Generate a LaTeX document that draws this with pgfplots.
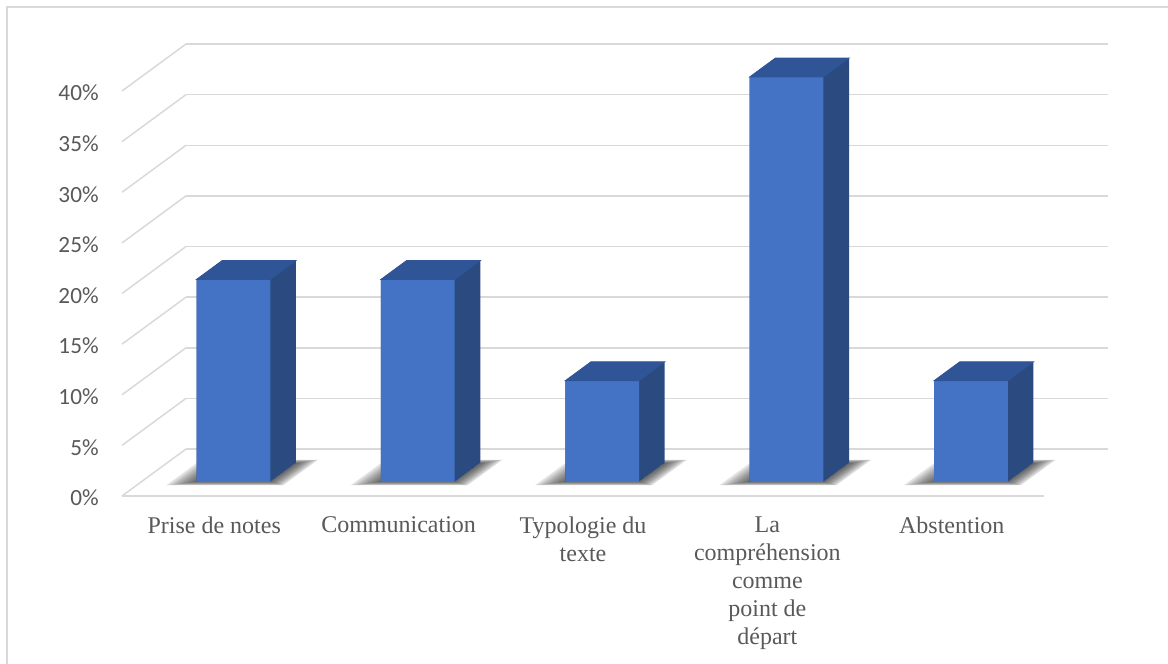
\documentclass[border=0pt]{standalone}
\usepackage{fontspec}
\setmainfont{Liberation Serif}
\newfontfamily\calibri{Carlito}
\usepackage{pgfplots}
\pgfplotsset{compat=1.18}
\usepackage{pgfplotstable}

\definecolor{frontc}{HTML}{4472C4}
\definecolor{topc}{HTML}{2F5597}
\definecolor{sidec}{HTML}{2A4A80}
\definecolor{gridc}{HTML}{D9D9D9}
\definecolor{labc}{HTML}{595959}

\pgfplotstableread{
x y
0 20
1 20
2 10
3 40
4 10
}\datatable

% oblique "3D": back wall -> front edge is (-32pt,-23.5pt)
% bars sit between depth 0.30 and 0.70 (from the front)
\pgfdeclareplotmark{topface}{%
  \fill[topc] (-18.44pt,0pt) -- (18.44pt,0pt) -- (31.24pt,9.4pt) -- (-5.64pt,9.4pt) -- cycle;}
\pgfdeclareplotmark{floorshadow}{%
  \foreach \k in {0,...,11}{%
    \pgfmathsetmacro\shl{31-1.1*\k}%
    \pgfmathsetmacro\shr{27-0.75*\k}%
    \pgfmathsetmacro\shx{8.5-0.2*\k}%
    \pgfmathsetmacro\shy{6.2-0.16*\k}%
    \fill[black,opacity=0.065] (-\shl pt-\shx pt,-\shy pt) -- (\shr pt-\shx pt,-\shy pt)
      -- (\shr pt+\shx pt,\shy pt) -- (-\shl pt+\shx pt,\shy pt) -- cycle;}}

\begin{document}
\begin{tikzpicture}
\useasboundingbox (0,0) rectangle (584pt,332pt);
\draw[gridc, line width=1pt] (3.5pt,-5pt) -- (3.5pt,328.5pt) -- (590pt,328.5pt);
\begin{axis}[
  at={(93pt,107.5pt)}, anchor=south west,
  scale only axis, width=461pt, height=202.5pt,
  xmin=-0.5, xmax=4.5, ymin=0, ymax=40,
  clip=false, clip marker paths=true,
  axis line style={draw=none},
  major tick length=0pt,
  ymajorgrids, grid style={gridc, line width=0.75pt},
  ytick={0,5,...,40},
  yticklabel={\pgfmathprintnumber{\tick}\%},
  /pgf/number format/assume math mode=true,
  yticklabel style={anchor=east, inner sep=0pt, xshift=-43.5pt, yshift=-24.5pt,
    font=\calibri\fontsize{11.6}{13}\selectfont, text=labc},
  xtick={0,...,4},
  xticklabels={Prise de notes, Communication, {Typologie du\\texte},
    {La\\compréhension\\comme\\point de\\départ}, Abstention},
  xticklabel style={anchor=north, inner sep=0pt, align=center, xshift=-32pt, yshift=-33.5pt,
    font=\fontsize{12}{14}\selectfont, text=labc},
]
% side wall and floor edges
\pgfplotsinvokeforeach{0,5,...,40}{
  \draw[gridc, line width=0.75pt] (axis cs:-0.5,#1) -- ++(-32pt,-23.5pt);
}
\draw[gridc, line width=0.75pt] ([shift={(-32pt,-23.5pt)}]axis cs:-0.5,0)
  -- ([shift={(-32pt,-23.5pt)}]axis cs:4.5,0);

% shadows on the floor
\addplot[only marks, mark=floorshadow, xshift=-16pt, yshift=-11.75pt]
  table[x=x, y expr=0] {\datatable};

% right side faces: the bar swept from front to back
\pgfplotsinvokeforeach{0,...,24}{
  \addplot[ybar, bar width=0.4, bar shift=0pt, fill=sidec, draw=none,
    xshift=-22.4pt+#1*0.53333pt, yshift=-16.45pt+#1*0.391667pt]
    table[x=x, y=y] {\datatable};
}
% front faces
\addplot[ybar, bar width=0.4, bar shift=0pt, fill=frontc, draw=none,
  xshift=-22.4pt, yshift=-16.45pt] table[x=x, y=y] {\datatable};
% top faces
\addplot[only marks, mark=topface, xshift=-22.4pt, yshift=-16.45pt]
  table[x=x, y=y] {\datatable};
\end{axis}
\end{tikzpicture}
\end{document}
